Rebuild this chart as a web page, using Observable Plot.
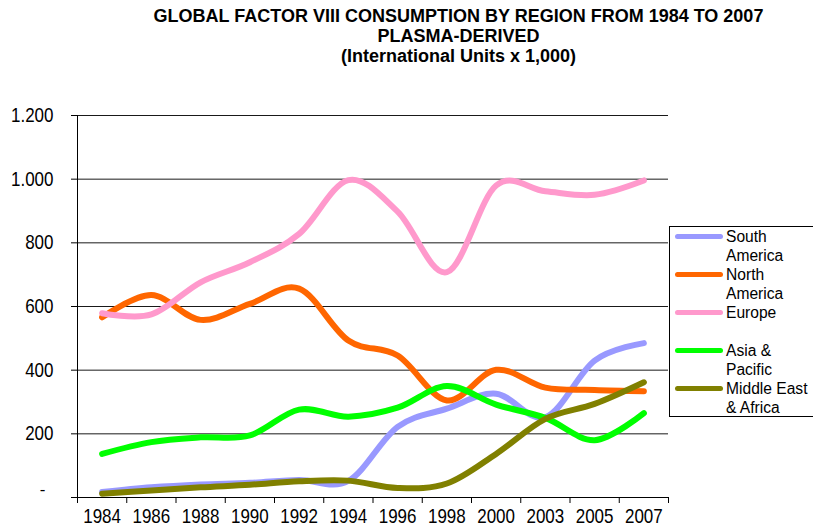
<!DOCTYPE html>
<html>
<head>
<meta charset="utf-8">
<script src="https://cdn.jsdelivr.net/npm/d3@7"></script>
<script src="https://cdn.jsdelivr.net/npm/@observablehq/plot@0.6"></script>
<style>
  html, body { margin: 0; padding: 0; background: #fff; }
  #wrap { position: relative; width: 813px; height: 531px; overflow: hidden; background: #fff; }
  #title { position: absolute; left: 458.5px; top: 6px; transform: translateX(-50%); white-space: nowrap;
           font-family: "Liberation Sans", Arial, sans-serif; font-weight: bold; font-size: 18px;
           line-height: 20px; text-align: center; color: #000; }
  #chart { position: absolute; left: 0; top: 0; }
  #legend { position: absolute; left: 669px; top: 226px; width: 170px; height: 189px;
            border: 1px solid #000; background: #fff;
            font-family: "Liberation Sans", Arial, sans-serif; font-size: 15.6px; line-height: 19px; color: #000; }
  .entry { position: absolute; left: 0; width: 160px; height: 38px; }
  .sw { position: absolute; left: 5px; top: 7px; width: 48px; height: 5px; border-radius: 3px; }
  .lab { position: absolute; left: 56px; top: 0; white-space: nowrap; }
</style>
</head>
<body>
<div id="wrap">
  <div id="chart"></div>
  <div id="title">
    <div>GLOBAL FACTOR VIII CONSUMPTION BY REGION FROM 1984 TO 2007</div>
    <div>PLASMA-DERIVED</div>
    <div>(International Units x 1,000)</div>
  </div>
  <div id="legend"></div>
</div>
<script>
// ---- data ----
const years = ["1984","1986","1988","1990","1992","1994","1996","1998","2000","2003","2005","2007"];
const southAmerica   = [17, 32, 41, 46, 55, 52, 222, 279, 326, 252, 430, 485];
const northAmerica   = [566, 636, 558, 608, 656, 493, 446, 305, 401, 345, 338, 334];
const europe         = [579, 575, 676, 739, 828, 997, 898, 708, 980, 962, 951, 996];
const asiaPacific    = [137, 174, 189, 195, 276, 254, 282, 350, 292, 250, 180, 265];
const middleEastAfrica = [12, 22, 32, 40, 51, 53, 30, 44, 137, 247, 294, 362];
const seriesNames  = ["South America", "North America", "Europe", "Asia & Pacific", "Middle East & Africa"];
const legendLines  = [["South","America"], ["North","America"], ["Europe",""], ["Asia &","Pacific"], ["Middle East","& Africa"]];
const seriesColors = ["#9999FF", "#FF6600", "#FF99CC", "#00FF00", "#808000"];
const yTicks = [0, 200, 400, 600, 800, 1000, 1200];

const seriesValues = [southAmerica, northAmerica, europe, asiaPacific, middleEastAfrica];
const idx = years.map((_, i) => i);
const boundaries = d3.range(years.length + 1).map(i => i - 0.5);
const fmt = d3.formatLocale({decimal: ",", thousands: ".", grouping: [3], currency: ["", ""]}).format(",d");

const chart = Plot.plot({
  width: 813,
  height: 531,
  marginTop: 115,
  marginBottom: 34,
  marginLeft: 77,
  marginRight: 145,
  x: {type: "linear", domain: [-0.5, years.length - 0.5]},
  y: {domain: [0, 1200]},
  style: {fontFamily: "'Liberation Sans', Arial, sans-serif", fontSize: "17px", color: "#000", background: "transparent"},
  marks: [
    Plot.ruleY(yTicks.filter(d => d > 0), {stroke: "#000", strokeWidth: 1, strokeOpacity: 0.9}),
    Plot.ruleX([-0.5], {stroke: "#000", strokeWidth: 1}),
    Plot.ruleY([0], {stroke: "#000", strokeWidth: 1}),
    Plot.axisY(yTicks, {tickSize: 6, tickPadding: 18, tickFormat: d => d === 0 ? "" : fmt(d), label: null, strokeOpacity: 1}),
    Plot.text([0], {x: () => -0.5, y: d => d, text: () => "-", dx: -35, dy: -8, textAnchor: "middle", fontSize: 17, className: "ticklab"}),
    Plot.axisX(boundaries, {tickSize: 6, tickFormat: () => "", label: null, strokeOpacity: 1}),
    Plot.axisX(idx, {tickSize: 0, tickPadding: 12, tickFormat: i => years[i], label: null}),
    ...seriesValues.map((vals, s) => Plot.line(vals, {
      x: (d, i) => i,
      y: d => d,
      stroke: seriesColors[s],
      strokeWidth: 6,
      curve: "cardinal",
      tension: 0
    }))
  ]
});
document.getElementById("chart").appendChild(chart);

// Tick labels in the reference are vertically stretched: scale them about their own centre.
chart.querySelectorAll('g[aria-label$="tick label"] text').forEach(t => {
  const b = t.getBBox();
  const cy = b.y + b.height / 2;
  const cur = t.getAttribute("transform") || "";
  t.setAttribute("transform", (cur + ` translate(0 ${cy}) scale(1 1.2) translate(0 ${-cy})`).trim());
});

// ---- legend ----
const legend = document.getElementById("legend");
seriesNames.forEach((name, k) => {
  const e = document.createElement("div");
  e.className = "entry";
  e.style.top = (k * 38) + "px";
  const sw = document.createElement("div");
  sw.className = "sw";
  sw.style.background = seriesColors[k];
  const lab = document.createElement("div");
  lab.className = "lab";
  lab.innerHTML = legendLines[k][0] + "<br>" + (legendLines[k][1] || "&nbsp;");
  lab.title = name;
  e.appendChild(sw);
  e.appendChild(lab);
  legend.appendChild(e);
});
</script>
</body>
</html>
